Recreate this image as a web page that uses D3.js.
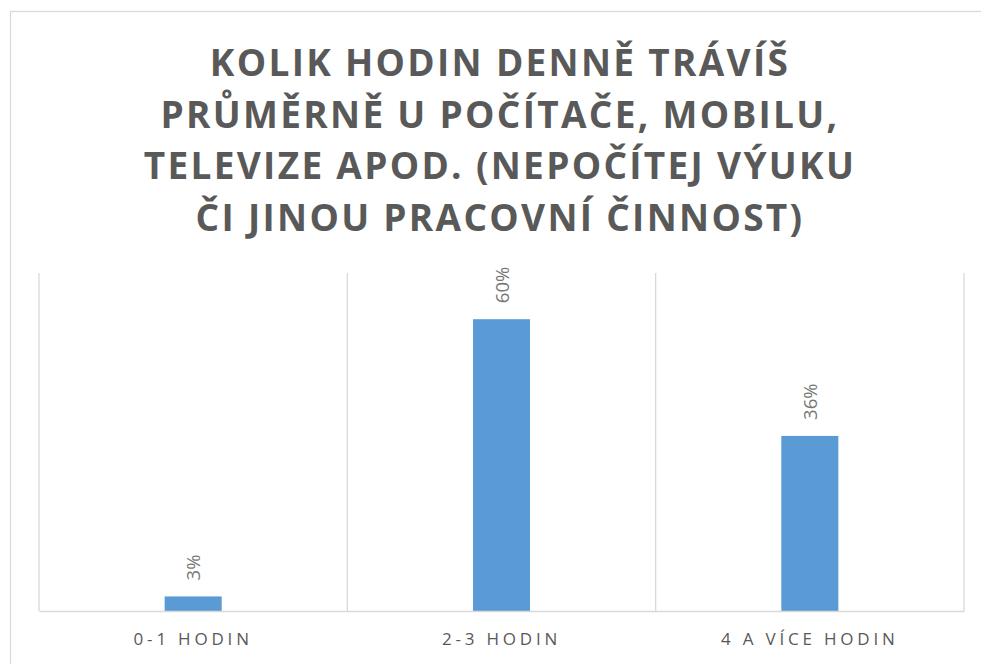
<!DOCTYPE html>
<html>
<head>
<meta charset="utf-8">
<script src="https://cdn.jsdelivr.net/npm/d3@7"></script>
<style>
  body { margin: 0; background: #fff; }
  svg { display: block; }
</style>
</head>
<body>
<div id="chart"></div>
<script>
// data
const categories = ["0-1 HODIN", "2-3 HODIN", "4 A VÍCE HODIN"];
const values = [0.03, 0.60, 0.36];
const titleLines = [
  "KOLIK HODIN DENNĚ TRÁVÍŠ",
  "PRŮMĚRNĚ U POČÍTAČE, MOBILU,",
  "TELEVIZE APOD. (NEPOČÍTEJ VÝUKU",
  "ČI JINOU PRACOVNÍ ČINNOST)"
];

const width = 981, height = 664;
const svg = d3.select("#chart").append("svg")
  .attr("width", width).attr("height", height);

// chart frame
svg.append("rect")
  .attr("x", 10.5).attr("y", 11.5)
  .attr("width", 976).attr("height", 670)
  .attr("fill", "#fff")
  .attr("stroke", "#d9d9d9").attr("stroke-width", 1.3);

// title
const title = svg.append("text")
  .attr("text-anchor", "middle")
  .attr("font-family", "'Open Sans', sans-serif")
  .attr("font-weight", "bold")
  .attr("font-size", 37)
  .attr("letter-spacing", "2.3px")
  .attr("fill", "#595959");
title.selectAll("tspan")
  .data(titleLines)
  .enter().append("tspan")
  .attr("x", 500)
  .attr("y", (d, i) => 76 + i * 51.5)
  .text(d => d);

const plot = {left: 39, right: 964, top: 273, bottom: 611};

const x = d3.scaleBand()
  .domain(categories)
  .range([plot.left, plot.right])
  .padding(0);

const y = d3.scaleLinear()
  .domain([0, 0.695])
  .range([plot.bottom, plot.top]);

// vertical category dividers
const bounds = categories.map(c => x(c)).concat([plot.right]);
svg.append("g")
  .selectAll("line")
  .data(bounds)
  .enter().append("line")
  .attr("x1", d => d).attr("x2", d => d)
  .attr("y1", plot.top).attr("y2", plot.bottom)
  .attr("stroke", "#d9d9d9").attr("stroke-width", 1.3);

// bars
const barW = x.step() * 0.185;
svg.append("g")
  .selectAll("rect")
  .data(values)
  .enter().append("rect")
  .attr("x", (d, i) => x(categories[i]) + x.bandwidth() / 2 - barW / 2)
  .attr("y", d => y(d))
  .attr("width", barW)
  .attr("height", d => y(0) - y(d))
  .attr("fill", "#5b9bd5");

// baseline axis
const xAxis = svg.append("g")
  .attr("transform", `translate(0,${plot.bottom})`)
  .call(d3.axisBottom(x).tickSize(0).tickPadding(22));
xAxis.select(".domain").attr("stroke", "#d9d9d9").attr("stroke-width", 1.3);
xAxis.selectAll("text")
  .attr("font-family", "'Open Sans', sans-serif")
  .attr("font-size", 17)
  .attr("letter-spacing", "3.8px")
  .attr("fill", "#595959");

// data labels
svg.append("g")
  .selectAll("text")
  .data(values)
  .enter().append("text")
  .attr("transform", (d, i) => `translate(${x(categories[i]) + x.bandwidth() / 2 + 7},${y(d) - 16}) rotate(-90)`)
  .attr("text-anchor", "start")
  .attr("font-family", "'Open Sans', sans-serif")
  .attr("font-size", 18.5)
  .attr("fill", "#767676")
  .text(d => d3.format(".0%")(d));
</script>
</body>
</html>
